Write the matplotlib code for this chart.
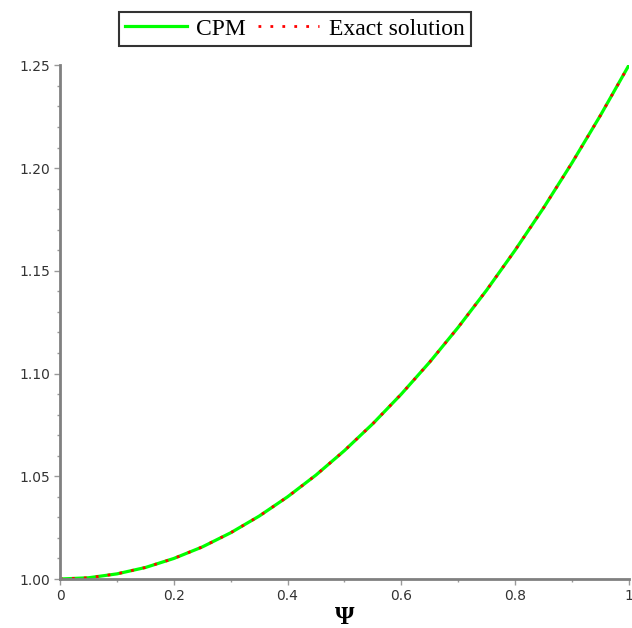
import matplotlib.pyplot as plt
from matplotlib.ticker import MultipleLocator, FormatStrFormatter

# values
psi = [0.0, 0.05, 0.1, 0.15, 0.2, 0.25, 0.3, 0.35, 0.4, 0.45, 0.5,
       0.55, 0.6, 0.65, 0.7, 0.75, 0.8, 0.85, 0.9, 0.95, 1.0]
cpm = [1.0, 1.0006, 1.0025, 1.0056, 1.01, 1.0156, 1.0225, 1.0306, 1.04, 1.0506, 1.0625,
       1.0756, 1.09, 1.1056, 1.1225, 1.1406, 1.16, 1.1806, 1.2025, 1.2256, 1.25]
exact = [1.0, 1.0006, 1.0025, 1.0056, 1.01, 1.0156, 1.0225, 1.0306, 1.04, 1.0506, 1.0625,
         1.0756, 1.09, 1.1056, 1.1225, 1.1406, 1.16, 1.1806, 1.2025, 1.2256, 1.25]

fig = plt.figure(figsize=(6.32, 6.28), dpi=100)
ax = fig.add_axes([0.095, 0.078, 0.9, 0.818])

ax.plot(psi, cpm, color='#00ff00', lw=2.3, label='CPM')
ax.plot(psi, exact, color='red', lw=2, ls=(0, (1, 3.3)), label='Exact solution')

ax.set_xlim(0, 1)
ax.set_ylim(1.0, 1.25)
ax.xaxis.set_major_locator(MultipleLocator(0.2))
ax.xaxis.set_minor_locator(MultipleLocator(0.1))
ax.yaxis.set_major_locator(MultipleLocator(0.05))
ax.yaxis.set_minor_locator(MultipleLocator(0.01))
ax.yaxis.set_major_formatter(FormatStrFormatter('%.2f'))
ax.set_xticks([0, 0.2, 0.4, 0.6, 0.8, 1.0], ['0', '0.2', '0.4', '0.6', '0.8', '1'])

for s in ['top', 'right']:
    ax.spines[s].set_visible(False)
for s in ['left', 'bottom']:
    ax.spines[s].set_color('#808080')
    ax.spines[s].set_linewidth(2)
ax.tick_params(which='major', length=4, width=1, color='#999999', labelsize=10,
               labelcolor='#333333', pad=3)
ax.tick_params(which='minor', length=2, width=1, color='#999999')

ax.set_xlabel('Ψ', fontsize=18, fontweight='bold', family='Liberation Serif', labelpad=2)

leg = ax.legend(loc='lower center', bbox_to_anchor=(0.413, 1.037), ncol=2,
                prop={'family': 'Liberation Serif', 'size': 17},
                frameon=True, fancybox=False, handlelength=2.6, columnspacing=0.5,
                handletextpad=0.4, borderpad=0.28, borderaxespad=0)
leg.get_frame().set_edgecolor('black')
leg.get_frame().set_linewidth(1.5)

fig.savefig('out.png', dpi=100)
